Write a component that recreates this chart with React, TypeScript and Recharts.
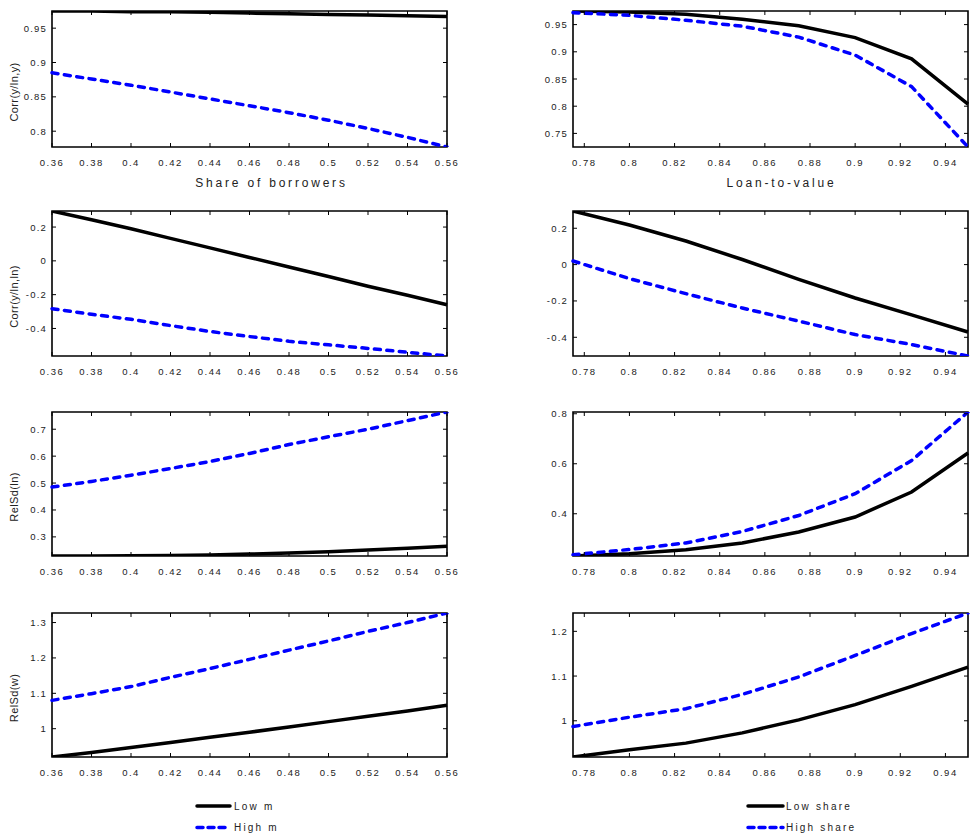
import { LineChart, Line, XAxis, YAxis, ReferenceArea } from 'recharts';

// x grids
const shareGrid = [0.36, 0.38, 0.4, 0.42, 0.44, 0.46, 0.48, 0.5, 0.52, 0.54, 0.56];
const ltvGrid = [0.775, 0.8, 0.825, 0.85, 0.875, 0.9, 0.925, 0.95];

const shareTicks = [0.36, 0.38, 0.4, 0.42, 0.44, 0.46, 0.48, 0.5, 0.52, 0.54, 0.56];
const ltvTicks = [0.78, 0.8, 0.82, 0.84, 0.86, 0.88, 0.9, 0.92, 0.94];

// left column (share of borrowers), Low m / High m
const corrYLowM = [0.975, 0.975, 0.974, 0.974, 0.973, 0.972, 0.971, 0.970, 0.969, 0.968, 0.967];
const corrYHighM = [0.885, 0.876, 0.867, 0.857, 0.847, 0.837, 0.827, 0.816, 0.804, 0.791, 0.777];
const corrLnLowM = [0.295, 0.243, 0.19, 0.133, 0.077, 0.02, -0.036, -0.093, -0.15, -0.204, -0.26];
const corrLnHighM = [-0.283, -0.316, -0.346, -0.383, -0.418, -0.448, -0.476, -0.497, -0.518, -0.541, -0.563];
const sdLnLowM = [0.229, 0.229, 0.23, 0.231, 0.233, 0.236, 0.24, 0.245, 0.251, 0.258, 0.265];
const sdLnHighM = [0.485, 0.506, 0.529, 0.554, 0.58, 0.61, 0.643, 0.672, 0.70, 0.732, 0.764];
const sdWLowM = [0.92, 0.933, 0.947, 0.961, 0.976, 0.99, 1.005, 1.02, 1.035, 1.05, 1.066];
const sdWHighM = [1.08, 1.099, 1.119, 1.145, 1.17, 1.196, 1.222, 1.248, 1.275, 1.30, 1.327];

// right column (loan-to-value), Low share / High share
const corrYLowS = [0.975, 0.973, 0.969, 0.96, 0.948, 0.926, 0.887, 0.804];
const corrYHighS = [0.972, 0.967, 0.958, 0.947, 0.927, 0.894, 0.836, 0.725];
const corrLnLowS = [0.295, 0.218, 0.13, 0.028, -0.081, -0.184, -0.277, -0.371];
const corrLnHighS = [0.02, -0.077, -0.16, -0.239, -0.311, -0.385, -0.44, -0.503];
const sdLnLowS = [0.231, 0.24, 0.256, 0.283, 0.327, 0.387, 0.487, 0.643];
const sdLnHighS = [0.236, 0.257, 0.283, 0.329, 0.393, 0.48, 0.613, 0.807];
const sdWLowS = [0.919, 0.935, 0.95, 0.973, 1.002, 1.036, 1.077, 1.12];
const sdWHighS = [0.987, 1.008, 1.027, 1.059, 1.098, 1.146, 1.195, 1.241];

const yTicks = [
  [[0.8, 0.85, 0.9, 0.95], [0.75, 0.8, 0.85, 0.9, 0.95]],
  [[-0.4, -0.2, 0, 0.2], [-0.4, -0.2, 0, 0.2]],
  [[0.3, 0.4, 0.5, 0.6, 0.7], [0.4, 0.6, 0.8]],
  [[1, 1.1, 1.2, 1.3], [1, 1.1, 1.2]],
];
const yLabels = ['Corr(y/ln,y)', 'Corr(y/ln,ln)', 'RelSd(ln)', 'RelSd(w)'];
const xLabels = ['Share of borrowers', 'Loan-to-value'];
const legendNames = [['Low m', 'High m'], ['Low share', 'High share']];

const series = [
  [[corrYLowM, corrYHighM], [corrYLowS, corrYHighS]],
  [[corrLnLowM, corrLnHighM], [corrLnLowS, corrLnHighS]],
  [[sdLnLowM, sdLnHighM], [sdLnLowS, sdLnHighS]],
  [[sdWLowM, sdWHighM], [sdWLowS, sdWHighS]],
];

const FONT = '"Liberation Sans", Arial, sans-serif';
const rowTop = [11, 211, 412, 613];
const rowH = [136, 145, 144, 144];
const colLeft = [0, 490];
const colYW = [52, 83];
const colW = [490, 481];
const PW = 395;
const TOP = 10;
const XH = 45;

function XTick(props: any) {
  const { x, y, payload, plotH } = props;
  return (
    <g>
      <line x1={x} x2={x} y1={y} y2={y - 4} stroke="#000" strokeWidth={1} />
      <line x1={x} x2={x} y1={y - plotH} y2={y - plotH + 4} stroke="#000" strokeWidth={1} />
      <text x={x} y={y + 19} textAnchor="middle" fontSize={9.5} fontFamily={FONT} fill="#222" style={{ letterSpacing: 1.5 }}>
        {String(payload.value)}
      </text>
    </g>
  );
}

function YTick(props: any) {
  const { x, y, payload } = props;
  return (
    <g>
      <line x1={x} x2={x + 4} y1={y} y2={y} stroke="#000" strokeWidth={1} />
      <line x1={x + PW} x2={x + PW - 4} y1={y} y2={y} stroke="#000" strokeWidth={1} />
      <text x={x - 5} y={y + 3.5} textAnchor="end" fontSize={9.5} fontFamily={FONT} fill="#222" style={{ letterSpacing: 1.2 }}>
        {String(payload.value)}
      </text>
    </g>
  );
}

function Panel({ row, col }: { row: number; col: number }) {
  const xs = col === 0 ? shareGrid : ltvGrid;
  const [low, high] = series[row][col];
  const data = xs.map((x, i) => ({ x, low: low[i], high: high[i] }));
  const xDom: [number, number] = [xs[0], xs[xs.length - 1]];
  const yDom: [number, number] = [Math.min(...low, ...high), Math.max(...low, ...high)];
  const h = rowH[row];
  const w = colW[col];
  return (
    <div style={{ position: 'absolute', left: colLeft[col], top: rowTop[row] - TOP }}>
      <LineChart width={w} height={TOP + h + XH} data={data} margin={{ top: TOP, right: w - colYW[col] - PW, bottom: 0, left: 0 }}>
        <XAxis
          dataKey="x"
          type="number"
          domain={xDom}
          ticks={col === 0 ? shareTicks : ltvTicks}
          interval={0}
          height={XH}
          tickSize={0}
          tickMargin={0}
          axisLine={false}
          tickLine={false}
          tick={(p: any) => <XTick {...p} plotH={h} />}
          label={
            row === 0
              ? () => (
                  <text
                    x={colYW[col] + PW / 2 + (col === 0 ? 22 : 11)}
                    y={TOP + h + 40}
                    textAnchor="middle"
                    fontSize={12}
                    fontFamily={FONT}
                    fill="#222"
                    style={{ letterSpacing: 2.8 }}
                  >
                    {xLabels[col]}
                  </text>
                )
              : undefined
          }
        />
        <YAxis
          type="number"
          domain={yDom}
          allowDataOverflow
          ticks={yTicks[row][col]}
          interval={0}
          width={colYW[col]}
          tickSize={0}
          tickMargin={0}
          axisLine={false}
          tickLine={false}
          tick={(p: any) => <YTick {...p} />}
          label={
            col === 0
              ? () => {
                  const cy = TOP + h / 2 + 13;
                  return (
                    <text
                      x={14}
                      y={cy}
                      transform={`rotate(-90, 14, ${cy})`}
                      textAnchor="middle"
                      dominantBaseline="central"
                      fontSize={11}
                      fontFamily={FONT}
                      fill="#222"
                      style={{ letterSpacing: 0.4 }}
                    >
                      {yLabels[row]}
                    </text>
                  );
                }
              : undefined
          }
        />
        <ReferenceArea x1={xDom[0]} x2={xDom[1]} y1={yDom[0]} y2={yDom[1]} fill="none" stroke="#000" strokeWidth={1.6} ifOverflow="visible" />
        <Line dataKey="low" type="linear" stroke="#000" strokeWidth={3.5} dot={false} isAnimationActive={false} />
        <Line
          dataKey="high"
          type="linear"
          stroke="#0000ff"
          strokeWidth={3.5}
          strokeDasharray="6 6.5"
          strokeLinecap="round"
          dot={false}
          isAnimationActive={false}
        />
      </LineChart>
    </div>
  );
}

function LegendBox() {
  const cols = [
    { x1: 197, x2: 230, tx: 234 },
    { x1: 748, x2: 783, tx: 786 },
  ];
  return (
    <svg width={971} height={50} style={{ position: 'absolute', left: 0, top: 789 }}>
      {cols.map((c, i) => (
        <g key={i}>
          <line x1={c.x1} x2={c.x2} y1={17} y2={17} stroke="#000" strokeWidth={3.5} strokeLinecap="round" />
          <line x1={c.x1} x2={c.x2} y1={38.5} y2={38.5} stroke="#0000ff" strokeWidth={3.5} strokeDasharray="6 5" strokeLinecap="round" />
          <text x={c.tx} y={20.5} fontSize={10} fontFamily={FONT} fill="#222" style={{ letterSpacing: 2.2 }}>
            {legendNames[i][0]}
          </text>
          <text x={c.tx} y={42} fontSize={10} fontFamily={FONT} fill="#222" style={{ letterSpacing: 2.2 }}>
            {legendNames[i][1]}
          </text>
        </g>
      ))}
    </svg>
  );
}

export default function App() {
  return (
    <div style={{ position: 'absolute', left: 0, top: 0, width: 971, height: 839, background: '#fff' }}>
      {[0, 1, 2, 3].map((r) => (
        <div key={r}>
          <Panel row={r} col={0} />
          <Panel row={r} col={1} />
        </div>
      ))}
      <LegendBox />
    </div>
  );
}
